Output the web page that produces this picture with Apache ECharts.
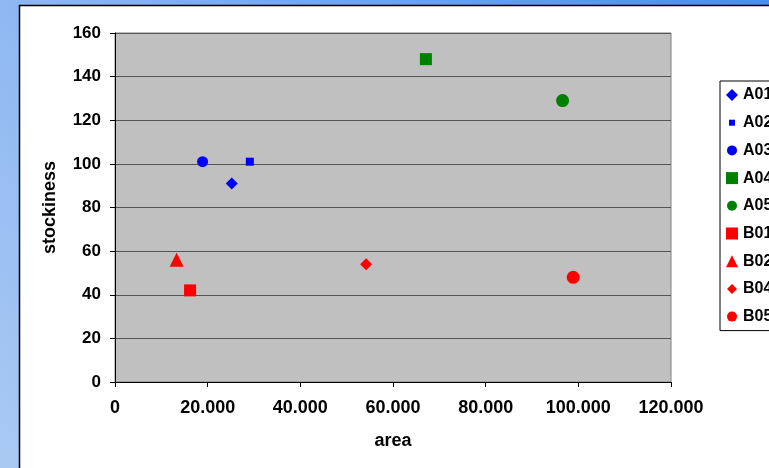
<!DOCTYPE html>
<html>
<head>
<meta charset="utf-8">
<script src="https://cdn.jsdelivr.net/npm/echarts@6/dist/echarts.min.js"></script>
<style>
html,body{margin:0;padding:0;}
#c{width:769px;height:468px;}
</style>
</head>
<body>
<div id="c"></div>
<script>
// ---- data ----
var seriesNames = ['A01','A02','A03','A04','A05','B01','B02','B04','B05'];
var areaValues = [25200, 29100, 18900, 67100, 96600, 16200, 13300, 54200, 98900];
var stockinessValues = [91, 101, 101, 148, 129, 42, 56, 54, 48];
var xTicks = [0, 20000, 40000, 60000, 80000, 100000, 120000];
var yTicks = [0, 20, 40, 60, 80, 100, 120, 140, 160];

// ---- styles ----
var symbols = ['diamond','rect','circle','rect','circle','rect','triangle','diamond','circle'];
var sizes = [12, 8, 11, 12, 13, 12, 14, 12, 13];
var colors = ['#0000FF','#0000FF','#0000FF','#008000','#008000','#FF0000','#FF0000','#FF0000','#FF0000'];
var legendIcons = ['diamond','path://M0,0M12,12M3,3h6v6h-6z','path://M0,0M12,12M11,6A5,5,0,1,1,1,6A5,5,0,1,1,11,6z','rect','path://M0,0M12,12M11,6A5,5,0,1,1,1,6A5,5,0,1,1,11,6z','rect','triangle','path://M0,0M12,12M6,1L11,6L6,11L1,6z','path://M0,0M12,12M11,6A5,5,0,1,1,1,6A5,5,0,1,1,11,6z'];

var FONT = '"Liberation Sans", Arial, sans-serif';

var series = seriesNames.map(function(n, i){
  return {
    name: n, type: 'scatter',
    symbol: symbols[i], symbolSize: sizes[i],
    itemStyle: {color: colors[i], opacity: 1},
    data: [[areaValues[i], stockinessValues[i]]]
  };
});

function fmtX(v){
  if (v === 0) return '0';
  var s = String(Math.round(v));
  return s.replace(/\B(?=(\d{3})+(?!\d))/g, '.');
}

var chart = echarts.init(document.getElementById('c'), null, {renderer:'canvas'});
chart.setOption({
  animation: false,
  backgroundColor: new echarts.graphic.LinearGradient(0, 1, 1, 0, [
    {offset: 0, color: '#A9C9F2'},
    {offset: 1, color: '#4A8CF4'}
  ]),
  graphic: [{
    type: 'rect', z: -10, silent: true,
    shape: {x: 19.5, y: 5.5, width: 800, height: 500},
    style: {fill: '#FFFFFF', stroke: '#000000', lineWidth: 1.5}
  }],
  grid: {
    left: 115, top: 33, right: 98, bottom: 86,
    show: true, backgroundColor: '#C0C0C0', borderColor: '#808080', borderWidth: 1
  },
  xAxis: {
    type: 'value', min: xTicks[0], max: xTicks[xTicks.length-1], interval: 20000,
    name: 'area', nameLocation: 'middle', nameGap: 50,
    nameTextStyle: {fontFamily: FONT, fontWeight: 'bold', fontSize: 18, color: '#000'},
    axisLine: {show: true, lineStyle: {color: '#000', width: 1}},
    axisTick: {show: true, inside: false, length: 5, lineStyle: {color: '#000'}},
    axisLabel: {formatter: fmtX, fontFamily: FONT, fontWeight: 'bold', fontSize: 18, color: '#000', margin: 17},
    splitLine: {show: false}
  },
  yAxis: {
    type: 'value', min: yTicks[0], max: yTicks[yTicks.length-1], interval: 20,
    name: 'stockiness', nameLocation: 'middle', nameGap: 56, nameRotate: 90,
    nameTextStyle: {fontFamily: FONT, fontWeight: 'bold', fontSize: 18, color: '#000'},
    axisLine: {show: true, lineStyle: {color: '#000', width: 1}},
    axisTick: {show: true, inside: false, length: 5, lineStyle: {color: '#000'}},
    axisLabel: {fontFamily: FONT, fontWeight: 'bold', fontSize: 17, color: '#000', margin: 14},
    splitLine: {show: true, lineStyle: {color: '#555555', width: 1.2}}
  },
  legend: {
    orient: 'vertical', left: 720, top: 81,
    backgroundColor: '#FFFFFF', borderColor: '#000000', borderWidth: 1,
    padding: [6, 10, 6, 6],
    itemWidth: 12, itemHeight: 12, itemGap: 11.7, itemTextGap: 5,
    textStyle: {fontFamily: FONT, fontWeight: 'bold', fontSize: 16, color: '#000', lineHeight: 16},
    data: seriesNames.map(function(n, i){ return {name: n, icon: legendIcons[i]}; })
  },
  series: series
});
</script>
</body>
</html>
